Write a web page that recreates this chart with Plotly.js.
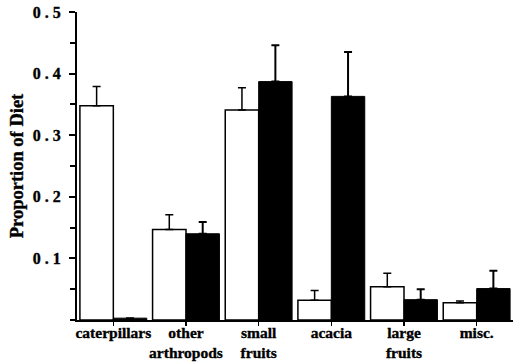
<!DOCTYPE html>
<html><head><meta charset="utf-8">
<script src="https://cdn.plot.ly/plotly-3.0.1.min.js"></script>
<style>html,body{margin:0;padding:0;background:#fff}#chart{width:513px;height:364px}
#chart .xtick text, #chart .ytick text, #chart .ytitle{stroke:#000;stroke-width:0.35px}</style>
</head><body><div id="chart"></div>
<script>
const categories = ["caterpillars", "other arthropods", "small fruits", "acacia", "large fruits", "misc."];
const tickLabels = ["<b>caterpillars</b>", "<b>other</b><br><b>arthropods</b>", "<b>small</b><br><b>fruits</b>", "<b>acacia</b>", "<b>large</b><br><b>fruits</b>", "<b>misc.</b>"];
const whiteValues = [0.348, 0.147, 0.341, 0.032, 0.054, 0.028];
const whiteErrors = [0.031, 0.024, 0.036, 0.016, 0.022, 0.003];
const blackValues = [0.003, 0.140, 0.387, 0.363, 0.033, 0.051];
const blackErrors = [0.000, 0.019, 0.059, 0.072, 0.017, 0.029];
const yTickVals = [0.1, 0.2, 0.3, 0.4, 0.5];
const yTickText = ["<b>0 . 1</b>", "<b>0 . 2</b>", "<b>0 . 3</b>", "<b>0 . 4</b>", "<b>0 . 5</b>"];

const fam = "Liberation Serif, Times New Roman, serif";
const zeros = categories.map(() => 0);

const traces = [
  {type: "bar", x: categories, y: whiteValues, marker: {color: "#fff", line: {color: "#000", width: 1.5}},
   error_y: {type: "data", symmetric: false, array: whiteErrors, arrayminus: zeros, color: "#000", thickness: 1.5, width: 4}},
  {type: "bar", x: categories, y: blackValues, marker: {color: "#000", line: {color: "#000", width: 1}},
   error_y: {type: "data", symmetric: false, array: blackErrors, arrayminus: zeros, color: "#000", thickness: 2, width: 4}}
];

const layout = {
  width: 513, height: 364,
  margin: {l: 77, r: 0, t: 12, b: 44},
  paper_bgcolor: "#fff", plot_bgcolor: "#fff",
  showlegend: false,
  barmode: "group", bargap: 0.08, bargroupgap: 0,
  font: {family: fam, color: "#000"},
  xaxis: {
    showline: true, linecolor: "#000", linewidth: 1.5,
    ticks: "outside", ticklen: 4, tickcolor: "#000", tickwidth: 1.5,
    tickangle: 0, automargin: false,
    tickvals: categories, ticktext: tickLabels,
    ticklabelstandoff: -6,
    tickfont: {family: fam, size: 15.5, color: "#000"},
    showgrid: false, zeroline: false
  },
  yaxis: {
    range: [0, 0.5], automargin: false,
    showline: true, linecolor: "#000", linewidth: 2,
    ticks: "outside", ticklen: 6, tickcolor: "#000", tickwidth: 2,
    tickvals: yTickVals, ticktext: yTickText,
    ticklabelstandoff: 5,
    minor: {dtick: 0.05, tick0: 0, ticks: "outside", ticklen: 5, tickcolor: "#000", tickwidth: 2, showgrid: false},
    tickfont: {family: fam, size: 16, color: "#000"},
    showgrid: false, zeroline: false,
    title: {text: "<b>Proportion of Diet</b>", font: {family: fam, size: 18.5, color: "#000"}, standoff: 4}
  }
};

Plotly.newPlot("chart", traces, layout, {displayModeBar: false, staticPlot: true});
</script></body></html>
